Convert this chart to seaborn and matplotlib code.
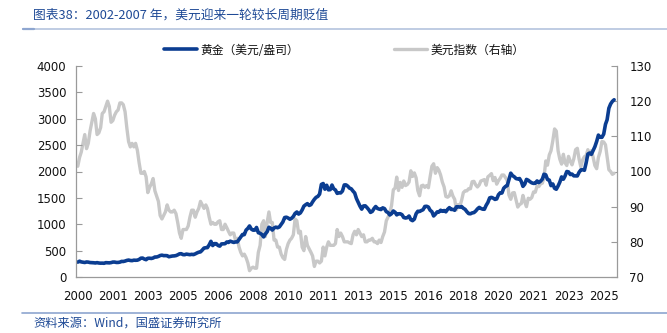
import numpy as np
import pandas as pd
import matplotlib
matplotlib.use("Agg")
import matplotlib.pyplot as plt
import seaborn as sns

# ---------------- data (monthly, 2000-01 .. 2025-07) ----------------
gold_2000_2004 = [282, 300, 286, 280, 275, 285, 282, 274, 273, 270, 266, 272,
                  265, 262, 263, 260, 272, 270, 268, 273, 283, 283, 276, 276,
                  282, 296, 294, 302, 314, 321, 313, 310, 319, 317, 319, 333,
                  357, 359, 340, 328, 355, 356, 351, 360, 379, 379, 390, 407,
                  414, 405, 406, 404, 384, 392, 398, 400, 406, 420, 439, 442]
gold_2005_2009 = [424, 423, 434, 429, 423, 430, 424, 438, 456, 470, 476, 510,
                  549, 555, 557, 610, 676, 596, 633, 632, 598, 585, 627, 629,
                  631, 664, 655, 679, 667, 655, 665, 665, 712, 754, 806, 803,
                  889, 922, 968, 909, 888, 889, 939, 839, 829, 806, 760, 816,
                  858, 943, 924, 890, 929, 945, 934, 949, 996, 1043, 1127, 1134]
gold_2010_2014 = [1118, 1095, 1113, 1148, 1205, 1232, 1193, 1215, 1271, 1343, 1370, 1391,
                  1356, 1372, 1424, 1473, 1510, 1528, 1572, 1755, 1772, 1665, 1739, 1652,
                  1656, 1743, 1673, 1650, 1585, 1596, 1594, 1630, 1745, 1747, 1722, 1685,
                  1671, 1627, 1593, 1487, 1414, 1343, 1286, 1347, 1349, 1316, 1275, 1225,
                  1244, 1300, 1336, 1299, 1287, 1279, 1311, 1296, 1239, 1222, 1176, 1200]
gold_2015_2019 = [1251, 1227, 1178, 1198, 1199, 1181, 1128, 1118, 1125, 1156, 1086, 1068,
                  1097, 1200, 1246, 1242, 1260, 1276, 1337, 1341, 1326, 1266, 1238, 1157,
                  1192, 1234, 1231, 1266, 1246, 1260, 1236, 1283, 1315, 1280, 1283, 1265,
                  1331, 1331, 1325, 1335, 1303, 1282, 1238, 1202, 1198, 1215, 1221, 1250,
                  1291, 1320, 1300, 1286, 1284, 1359, 1413, 1500, 1510, 1495, 1471, 1480]
gold_2020_2025 = [1560, 1597, 1592, 1683, 1716, 1732, 1846, 1968, 1922, 1900, 1866, 1858,
                  1867, 1808, 1718, 1760, 1850, 1834, 1807, 1785, 1775, 1777, 1821, 1790,
                  1817, 1856, 1948, 1937, 1849, 1837, 1732, 1764, 1681, 1664, 1726, 1798,
                  1898, 1854, 1912, 2000, 1992, 1942, 1951, 1918, 1916, 1916, 1985, 2030,
                  2034, 2023, 2159, 2331, 2350, 2326, 2398, 2470, 2570, 2690, 2650, 2648,
                  2709, 2895, 2980, 3200, 3280, 3330, 3360]

dxy_2000_2004 = [101.5, 104, 105.5, 108, 110.5, 106.5, 108, 111.5, 114, 116.5, 115, 110.5,
                 111, 112.5, 116.5, 117, 118.5, 120, 118.5, 114, 114.5, 116, 117, 117.5,
                 119.5, 119.5, 119, 117, 112.5, 108.5, 107, 108, 107, 108, 106, 102.5,
                 99.5, 99.5, 100, 98.5, 94, 95.5, 96.5, 98, 94.5, 93, 91.5, 87.5,
                 86.5, 87.5, 88.5, 90.5, 89, 88.5, 88.5, 89, 88, 85.5, 82.5, 81]
dxy_2005_2009 = [83.5, 83.5, 83.5, 84.5, 87, 89, 89, 87, 88.5, 89.5, 91.5, 90.5,
                 89.5, 90.5, 89.5, 87, 85, 85.5, 85, 85, 85.7, 86, 83.5, 83.5,
                 85, 84, 83, 82, 82.5, 82.5, 80.5, 81, 78.5, 77, 76, 76.5,
                 75.5, 74, 71.8, 72.5, 72.8, 72.5, 72.5, 77, 79, 85, 86, 81.5,
                 85.5, 88.5, 85.5, 85.5, 80.5, 80.5, 78.5, 78.5, 76.5, 75.5, 75, 77.8]
dxy_2010_2014 = [79.5, 80.5, 81, 82, 86.5, 86, 82.5, 83, 78.5, 77.5, 81.5, 79,
                 78, 77, 76, 73, 74.5, 74.5, 74, 74.5, 78.5, 76, 78.5, 80,
                 79, 79, 79, 79.5, 83.5, 81.5, 82.5, 81.5, 80, 80, 80, 79.7,
                 79.5, 82, 83, 82, 83.5, 82.5, 81.5, 82, 80, 80, 80.5, 80.5,
                 81, 80, 80, 79.5, 80.5, 79.8, 81.5, 82.8, 86, 87, 88.3, 90.3]
dxy_2015_2019 = [94.8, 95.3, 98.4, 94.6, 96.9, 95.5, 97.3, 96, 96.3, 97, 100.2, 98.6,
                 99.6, 98.2, 94.6, 93.1, 95.9, 96.1, 95.5, 96, 95.4, 98.5, 101.5, 102.2,
                 99.5, 101.1, 100.4, 99, 97, 95.6, 92.9, 92.7, 93.1, 94.5, 93, 92.1,
                 89.1, 90.6, 90.1, 91.8, 94, 94.5, 94.5, 95.1, 95.1, 97.1, 97.2, 96.2,
                 95.6, 96.2, 97.3, 97.5, 97.7, 96.1, 98.5, 98.9, 99.4, 97.4, 98.3, 96.4]
dxy_2020_2025 = [97.4, 98.1, 99, 99, 98.3, 97.4, 93.3, 92.1, 93.9, 94, 91.9, 89.9,
                 90.6, 90.9, 93.2, 91.3, 90, 92.4, 92.1, 92.6, 94.2, 94.1, 95.9, 95.7,
                 96.5, 96.7, 98.3, 103, 101.8, 104.7, 105.9, 108.7, 112.1, 111.5, 105.9, 103.5,
                 102.1, 104.9, 102.5, 101.7, 104.3, 102.9, 101.9, 103.6, 106.2, 106.6, 103.5, 101.3,
                 103.3, 104.2, 104.5, 106.2, 104.7, 105.9, 104.1, 101.7, 100.8, 104, 105.7, 108.5,
                 108.4, 107.6, 104.2, 100.5, 100, 99.2, 99.5]

gold = gold_2000_2004 + gold_2005_2009 + gold_2010_2014 + gold_2015_2019 + gold_2020_2025
dxy = dxy_2000_2004 + dxy_2005_2009 + dxy_2010_2014 + dxy_2015_2019 + dxy_2020_2025
dates = pd.date_range("2000-01-01", periods=len(gold), freq="MS")

tick_dates = pd.date_range("2000-01-01", periods=16, freq="20MS")
tick_labels = ["2000", "2001", "2003", "2005", "2006", "2008", "2010", "2011",
               "2013", "2015", "2016", "2018", "2020", "2021", "2023", "2025"]

title_text = "图表38：2002-2007 年，美元迎来一轮较长周期贬值"
source_text = "资料来源：Wind，国盛证券研究所"
gold_label = "黄金（美元/盎司）"
dxy_label = "美元指数（右轴）"

df = pd.DataFrame({"date": dates, "gold": gold, "dxy": dxy})

# ---------------- figure ----------------
sns.set_theme(style="white")
plt.rcParams["font.family"] = ["DejaVu Sans", "Noto Sans CJK SC"]
cjk = ["Noto Sans CJK SC", "DejaVu Sans"]

fig = plt.figure(figsize=(6.67, 3.33), dpi=100)
ax = fig.add_axes([76 / 667, 1 - 277 / 333, (617 - 76) / 667, (277 - 66) / 333])
ax2 = ax.twinx()

blue = "#0B3D91"
grey = "#C8C8C8"

sns.lineplot(data=df, x="date", y="dxy", ax=ax2, color=grey, linewidth=2.4, label=dxy_label, legend=False)
sns.lineplot(data=df, x="date", y="gold", ax=ax, color=blue, linewidth=2.6, label=gold_label, legend=False)
ax.set_zorder(ax2.get_zorder() + 1)
ax.patch.set_visible(False)

ax.set_ylim(0, 4000)
ax.set_yticks(np.arange(0, 4001, 500))
ax2.set_ylim(70, 130)
ax2.set_yticks(np.arange(70, 131, 10))
ax.set_xlim(pd.Timestamp("1999-12-01"), pd.Timestamp("2025-08-20"))
ax.set_xticks(tick_dates)
ax.set_xticklabels(tick_labels)
ax.set_xlabel("")
ax.set_ylabel("")
ax2.set_ylabel("")

spine_c = "#9A9A9A"
for a in (ax, ax2):
    for s in a.spines.values():
        s.set_visible(False)
ax.spines["left"].set_visible(True)
ax.spines["bottom"].set_visible(True)
ax2.spines["right"].set_visible(True)
for s in (ax.spines["left"], ax.spines["bottom"], ax2.spines["right"]):
    s.set_color(spine_c)
    s.set_linewidth(0.9)

ax.tick_params(axis="both", direction="in", length=4, width=0.8, color=spine_c,
               labelsize=8.5, labelcolor="#111111")
ax.tick_params(axis="x", pad=9)
ax.tick_params(axis="y", pad=7)
ax2.tick_params(axis="y", direction="in", length=4, width=0.8, color=spine_c,
                labelsize=8.5, labelcolor="#111111", pad=9)
ax.grid(False)
ax2.grid(False)

# legend
h1, l1 = ax.get_legend_handles_labels()
h2, l2 = ax2.get_legend_handles_labels()
leg = fig.legend(h1 + h2, l1 + l2, loc="center", bbox_to_anchor=(344 / 667, 1 - 50 / 333),
                 ncol=2, frameon=False, handlelength=2.8, handletextpad=0.3,
                 columnspacing=8.0, prop={"family": cjk, "size": 8.5})
for t in leg.get_texts():
    t.set_color("#111111")

# title, separators, source
title_blue = "#1F4A96"
fig.text(33 / 667, 1 - 15 / 333, title_text, family=cjk, fontsize=9.2,
         color=title_blue, va="center", ha="left", style="italic")
fig.add_artist(plt.Line2D([23 / 667, 1.0], [1 - 29 / 333] * 2, color="#B4C3DE", lw=1.2))
fig.add_artist(plt.Line2D([23 / 667, 34 / 667], [1 - 29 / 333] * 2, color="#8EA6D0", lw=1.6))
fig.add_artist(plt.Line2D([22 / 667, 1.0], [1 - 313 / 333] * 2, color="#8EA6D0", lw=1.2))
fig.text(33 / 667, 1 - 323 / 333, source_text, family=cjk, fontsize=8.8,
         color=title_blue, va="center", ha="left", style="italic")

fig.savefig("out.png", dpi=100)
